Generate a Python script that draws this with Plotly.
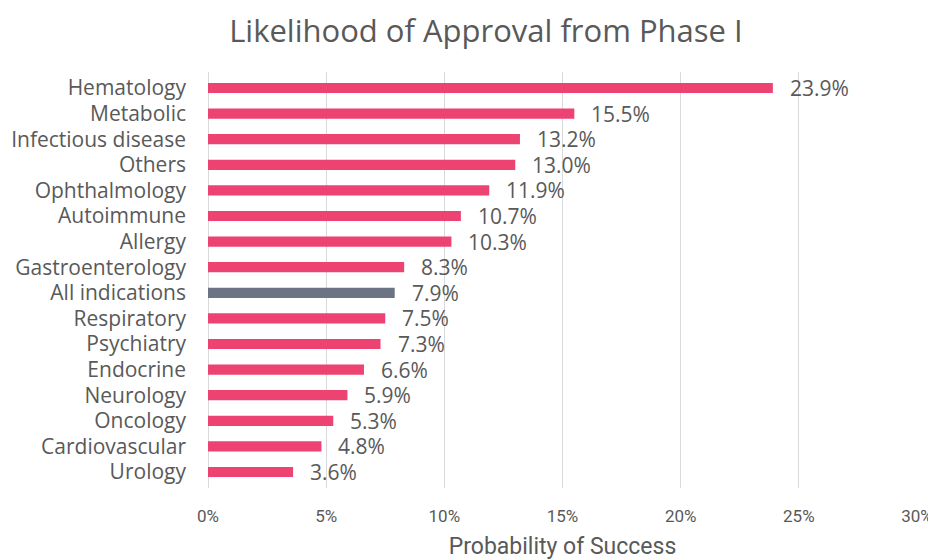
import plotly.graph_objects as go

# categories top to bottom, as shown on the chart
categories = [
    "Hematology", "Metabolic", "Infectious disease", "Others", "Ophthalmology",
    "Autoimmune", "Allergy", "Gastroenterology", "All indications", "Respiratory",
    "Psychiatry", "Endocrine", "Neurology", "Oncology", "Cardiovascular", "Urology",
]
success_pct = [23.9, 15.5, 13.2, 13.0, 11.9, 10.7, 10.3, 8.3, 7.9, 7.5, 7.3, 6.6, 5.9, 5.3, 4.8, 3.6]
x_ticks = [0, 5, 10, 15, 20, 25, 30]

PINK = "#EC4373"
GREY = "#6B7385"
TEXT = "#595959"

bar_colors = [GREY if c == "All indications" else PINK for c in categories]

fig = go.Figure()
fig.add_trace(go.Bar(
    y=categories,
    x=success_pct,
    orientation="h",
    marker=dict(color=bar_colors, line=dict(width=0)),
    hoverinfo="skip",
))

# value labels, pushed a bit to the right of each bar end
for cat, val in zip(categories, success_pct):
    fig.add_annotation(
        x=val, y=cat, text=f"{val:.1f}%",
        showarrow=False, xanchor="left", xshift=15,
        font=dict(family="Open Sans, sans-serif", size=21, color=TEXT),
    )

# page body adds an 8px margin, so the figure is a bit smaller than the window
fig.update_layout(
    width=928, height=552,
    margin=dict(l=200, r=19, t=64, b=72),
    paper_bgcolor="white", plot_bgcolor="white",
    bargap=0.6,
    showlegend=False,
    title=dict(
        text="Likelihood of Approval from Phase I",
        x=0.515, xanchor="center", y=0.958, yanchor="middle",
        font=dict(family="Open Sans, sans-serif", size=31, color=TEXT),
    ),
)

fig.update_xaxes(
    range=[0, 30],
    automargin=False,
    tickvals=x_ticks,
    ticktext=[f"{t}%" for t in x_ticks],
    showgrid=True, gridcolor="#D9D9D9", gridwidth=1,
    zeroline=True, zerolinecolor="#D9D9D9", zerolinewidth=1,
    showline=False,
    ticks="", ticklabelstandoff=16,
    tickfont=dict(family="Roboto, sans-serif", size=17, color=TEXT),
    title=dict(
        text="Probability of Success", standoff=13,
        font=dict(family="Roboto, sans-serif", size=23, color=TEXT),
    ),
)

fig.update_yaxes(
    autorange="reversed",
    automargin=False,
    showgrid=False, showline=False, ticks="",
    ticklabelstandoff=21,
    tickfont=dict(family="Open Sans, sans-serif", size=21, color=TEXT),
)

fig.write_html("out.html")
